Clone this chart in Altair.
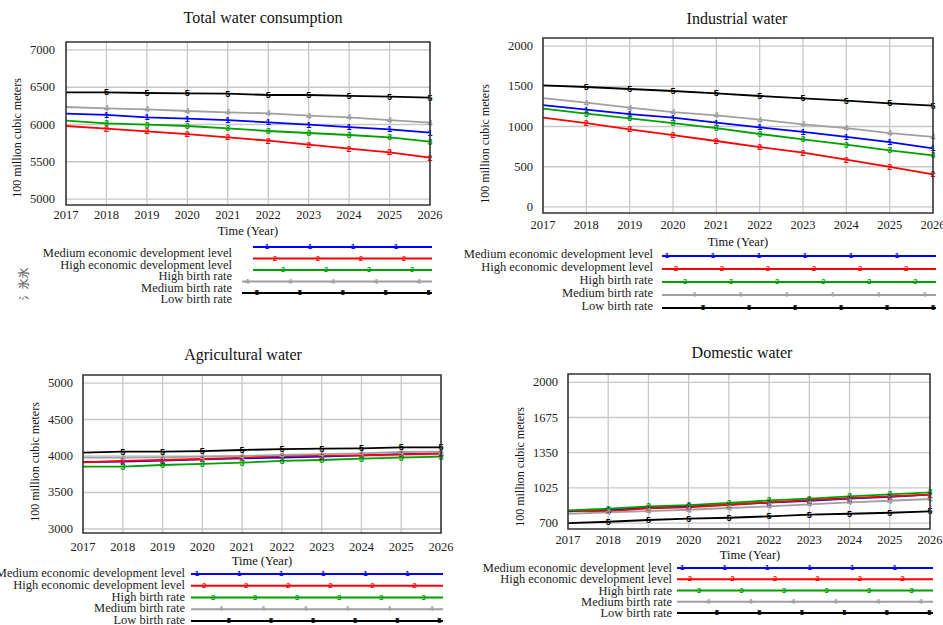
import altair as alt
import pandas as pd

YEARS = list(range(2017, 2027))
SERIES = ["Medium economic development level", "High economic development level",
          "High birth rate", "Medium birth rate", "Low birth rate"]
MARKS = ["1", "2", "3", "4", "5"]
COLORS = ["#0000ff", "#ff0000", "#00a000", "#a0a0a0", "#000000"]

# ---- Total water consumption ----
total_medium_econ = [6145, 6128, 6096, 6078, 6060, 6029, 5998, 5966, 5935, 5890]
total_high_econ = [5980, 5944, 5908, 5872, 5828, 5783, 5729, 5676, 5626, 5555]
total_high_birth = [6051, 6016, 5998, 5980, 5949, 5913, 5886, 5859, 5828, 5770]
total_medium_birth = [6235, 6217, 6204, 6181, 6163, 6150, 6119, 6096, 6060, 6025]
total_low_birth = [6432, 6430, 6423, 6418, 6414, 6396, 6396, 6383, 6374, 6360]

# ---- Industrial water ----
ind_medium_econ = [1267, 1209, 1155, 1110, 1048, 990, 932, 870, 807, 729]
ind_high_econ = [1110, 1043, 965, 894, 820, 745, 675, 588, 497, 406]
ind_high_birth = [1222, 1159, 1101, 1043, 981, 907, 841, 774, 704, 642]
ind_medium_birth = [1354, 1296, 1234, 1180, 1139, 1085, 1027, 981, 919, 870]
ind_low_birth = [1511, 1491, 1466, 1441, 1412, 1379, 1350, 1321, 1288, 1259]

# ---- Agricultural water ----
agr_medium_econ = [3918, 3923, 3936, 3955, 3968, 3977, 3991, 4009, 4027, 4036]
agr_high_econ = [3914, 3932, 3945, 3959, 3977, 4000, 4005, 4009, 4023, 4032]
agr_high_birth = [3855, 3855, 3877, 3891, 3909, 3932, 3945, 3964, 3977, 3991]
agr_medium_birth = [3977, 3977, 3982, 3991, 4000, 4014, 4027, 4036, 4055, 4059]
agr_low_birth = [4045, 4059, 4059, 4068, 4082, 4095, 4100, 4105, 4118, 4118]

# ---- Domestic water ----
dom_medium_econ = [808, 823, 842, 854, 869, 888, 906, 925, 943, 962]
dom_high_econ = [814, 808, 836, 845, 869, 891, 913, 931, 946, 962]
dom_high_birth = [817, 832, 854, 866, 885, 909, 925, 946, 965, 983]
dom_medium_birth = [786, 799, 811, 823, 839, 854, 873, 891, 906, 922]
dom_low_birth = [700, 712, 728, 740, 749, 762, 777, 786, 795, 808]

TOTAL_TICKS = [5000, 5500, 6000, 6500, 7000]
IND_TICKS = [0, 500, 1000, 1500, 2000]
AGR_TICKS = [3000, 3500, 4000, 4500, 5000]
DOM_TICKS = [700, 1025, 1350, 1675, 2000]

TITLES = ["Total water consumption", "Industrial water", "Agricultural water", "Domestic water"]
Y_TITLE = "100 million cubic meters"
X_TITLE = "Time (Year)"

SERIF = "Liberation Serif"

panels = [
    dict(title=TITLES[0],
         data=[total_medium_econ, total_high_econ, total_high_birth, total_medium_birth, total_low_birth],
         ticks=TOTAL_TICKS, ydom=[4920, 7107], xr=[66, 430], yr=[205, 42],
         ytick_dx=-11, xlab_dy=10, title_pos=(263, 18), ytitle_pos=(17, 138), xtitle_pos=(248, 231),
         leg_xr=[242, 432], leg_yr=[247, 293], leg_start=[0.058, 0.058, 0.058, 0.0, 0.0],
         leg_first=[0.132, 0.174, 0.216, 0.026, 0.079], leg_step=0.226, leg_dx=-10, leg_dy=6),
    dict(title=TITLES[1],
         data=[ind_medium_econ, ind_high_econ, ind_high_birth, ind_medium_birth, ind_low_birth],
         ticks=IND_TICKS, ydom=[-75, 2100], xr=[543, 933], yr=[213, 38],
         ytick_dx=-10, xlab_dy=12, title_pos=(737, 19), ytitle_pos=(485, 144), xtitle_pos=(738, 242),
         leg_xr=[662, 936], leg_yr=[256, 308], leg_start=[0, 0, 0, 0, 0],
         leg_first=[0.018, 0.051, 0.084, 0.117, 0.150], leg_step=0.168, leg_dx=-9, leg_dy=-2),
    dict(title=TITLES[2],
         data=[agr_medium_econ, agr_high_econ, agr_high_birth, agr_medium_birth, agr_low_birth],
         ticks=AGR_TICKS, ydom=[2945, 5110], xr=[83, 441], yr=[533, 375],
         ytick_dx=-10, xlab_dy=14, title_pos=(243, 355), ytitle_pos=(35, 462), xtitle_pos=(262, 561),
         leg_xr=[191, 443], leg_yr=[574, 621], leg_start=[0, 0, 0, 0, 0],
         leg_first=[0.024, 0.052, 0.087, 0.119, 0.151], leg_step=0.167, leg_dx=-6, leg_dy=-1),
    dict(title=TITLES[3],
         data=[dom_medium_econ, dom_high_econ, dom_high_birth, dom_medium_birth, dom_low_birth],
         ticks=DOM_TICKS, ydom=[645, 2077], xr=[568, 930], yr=[529, 374],
         ytick_dx=-10, xlab_dy=11, title_pos=(742, 353), ytitle_pos=(520, 467), xtitle_pos=(750, 555),
         leg_xr=[677, 933], leg_yr=[568, 613], leg_start=[0, 0, 0, 0, 0],
         leg_first=[0.020, 0.051, 0.086, 0.121, 0.156], leg_step=0.166, leg_dx=-5, leg_dy=0),
]

color_enc = alt.Color("series:N", scale=alt.Scale(domain=SERIES, range=COLORS), legend=None)


def plot_layer(p):
    xs = alt.Scale(domain=[2017, 2026], range=p["xr"], nice=False, zero=False)
    ys = alt.Scale(domain=p["ydom"], range=p["yr"], nice=False, zero=False)
    y0, y1 = p["ydom"]
    rows = []
    for s, vals in enumerate(p["data"]):
        for yr, v in zip(YEARS, vals):
            rows.append(dict(year=yr, value=v, series=SERIES[s], mark=MARKS[s], order=s))
    df = pd.DataFrame(rows)
    frame = pd.DataFrame([dict(x0=2017, x1=2026, y0=y0, y1=y1)])
    gx = pd.DataFrame([dict(x=yr, y0=y0, y1=y1) for yr in YEARS[1:-1]])
    gy = pd.DataFrame([dict(y=t, x0=2017, x1=2026) for t in p["ticks"]])
    xl = pd.DataFrame([dict(x=yr, y=y0, lab=str(yr)) for yr in YEARS])
    yl = pd.DataFrame([dict(x=2017, y=t, lab=str(t)) for t in p["ticks"]])

    X = lambda f: alt.X(f, scale=xs, axis=None)
    Y = lambda f: alt.Y(f, scale=ys, axis=None)

    bg = alt.Chart(frame).mark_rect(fill="white").encode(
        x=X("x0:Q"), x2="x1:Q", y=Y("y0:Q"), y2="y1:Q")
    gridx = alt.Chart(gx).mark_rule(color="#c8c8c8", strokeWidth=1.3).encode(
        x=X("x:Q"), y=Y("y0:Q"), y2="y1:Q")
    gridy = alt.Chart(gy).mark_rule(color="#c8c8c8", strokeWidth=1.3).encode(
        y=Y("y:Q"), x=X("x0:Q"), x2="x1:Q")
    lines = alt.Chart(df).mark_line(strokeWidth=1.8).encode(
        x=X("year:Q"), y=Y("value:Q"), color=color_enc, detail="series:N", order="year:Q")
    marks = alt.Chart(df[df.year > 2017]).mark_text(
        fontSize=9, fontWeight="bold", font="Liberation Sans").encode(
        x=X("year:Q"), y=Y("value:Q"), text="mark:N", color=color_enc)
    border = alt.Chart(frame).mark_rect(fill="transparent", stroke="#333333", strokeWidth=1.6).encode(
        x=X("x0:Q"), x2="x1:Q", y=Y("y0:Q"), y2="y1:Q")
    xlabels = alt.Chart(xl).mark_text(font=SERIF, fontSize=12.5, color="#222", baseline="middle",
                                      dy=p["xlab_dy"]).encode(x=X("x:Q"), y=Y("y:Q"), text="lab:N")
    ylabels = alt.Chart(yl).mark_text(font=SERIF, fontSize=12.5, color="#222", align="right",
                                      baseline="middle", dx=p["ytick_dx"]).encode(
        x=X("x:Q"), y=Y("y:Q"), text="lab:N")
    return alt.layer(bg, gridx, gridy, lines, marks, border, xlabels, ylabels)


def legend_layer(p):
    xs = alt.Scale(domain=[0, 1], range=p["leg_xr"], nice=False, zero=False)
    ys = alt.Scale(domain=[0, 4], range=p["leg_yr"], nice=False, zero=False)
    X = lambda f: alt.X(f, scale=xs, axis=None)
    Y = lambda f: alt.Y(f, scale=ys, axis=None)
    ln = pd.DataFrame([dict(row=i, x0=p["leg_start"][i], x1=1.0, series=SERIES[i]) for i in range(5)])
    mk = []
    for i in range(5):
        f = p["leg_first"][i]
        while f <= 1.0:
            mk.append(dict(row=i, x=f, series=SERIES[i], mark=MARKS[i]))
            f += p["leg_step"]
    mk = pd.DataFrame(mk)
    lab = pd.DataFrame([dict(row=i, x=0.0, lab=SERIES[i]) for i in range(5)])
    lines = alt.Chart(ln).mark_rule(strokeWidth=1.8).encode(
        x=X("x0:Q"), x2="x1:Q", y=Y("row:Q"), color=color_enc)
    marks = alt.Chart(mk).mark_text(fontSize=8, fontWeight="bold", font="Liberation Sans").encode(
        x=X("x:Q"), y=Y("row:Q"), text="mark:N", color=color_enc)
    labels = alt.Chart(lab).mark_text(font=SERIF, fontSize=12.5, color="#222", align="right",
                                      baseline="middle", dx=p["leg_dx"], dy=p["leg_dy"]).encode(
        x=X("x:Q"), y=Y("row:Q"), text="lab:N")
    return alt.layer(lines, marks, labels)


def text_layer(p):
    t = alt.Chart(pd.DataFrame([dict(t=p["title"])])).mark_text(
        font=SERIF, fontSize=16, color="#111", baseline="middle").encode(
        x=alt.value(p["title_pos"][0]), y=alt.value(p["title_pos"][1]), text="t:N")
    yt = alt.Chart(pd.DataFrame([dict(t=Y_TITLE)])).mark_text(
        font=SERIF, fontSize=12, color="#111", baseline="middle", angle=270).encode(
        x=alt.value(p["ytitle_pos"][0]), y=alt.value(p["ytitle_pos"][1]), text="t:N")
    xt = alt.Chart(pd.DataFrame([dict(t=X_TITLE)])).mark_text(
        font=SERIF, fontSize=12.5, color="#111", baseline="middle").encode(
        x=alt.value(p["xtitle_pos"][0]), y=alt.value(p["xtitle_pos"][1]), text="t:N")
    return alt.layer(t, yt, xt)


stray = alt.Chart(pd.DataFrame([dict(t="氵氷氷")])).mark_text(
    font="Noto Sans CJK JP", fontSize=11, color="#555", angle=270, baseline="middle").encode(
    x=alt.value(25), y=alt.value(284), text="t:N")

children = []
for p in panels:
    children.append(plot_layer(p))
    children.append(legend_layer(p))
    children.append(text_layer(p))
children.append(stray)

chart = alt.layer(*children).resolve_scale(
    x="independent", y="independent"
).properties(
    width=943, height=625, padding=0, autosize=alt.AutoSizeParams(type="none"), background="white"
).configure_view(stroke=None)

chart.save("out.html", embed_options={"renderer": "svg", "actions": False})
